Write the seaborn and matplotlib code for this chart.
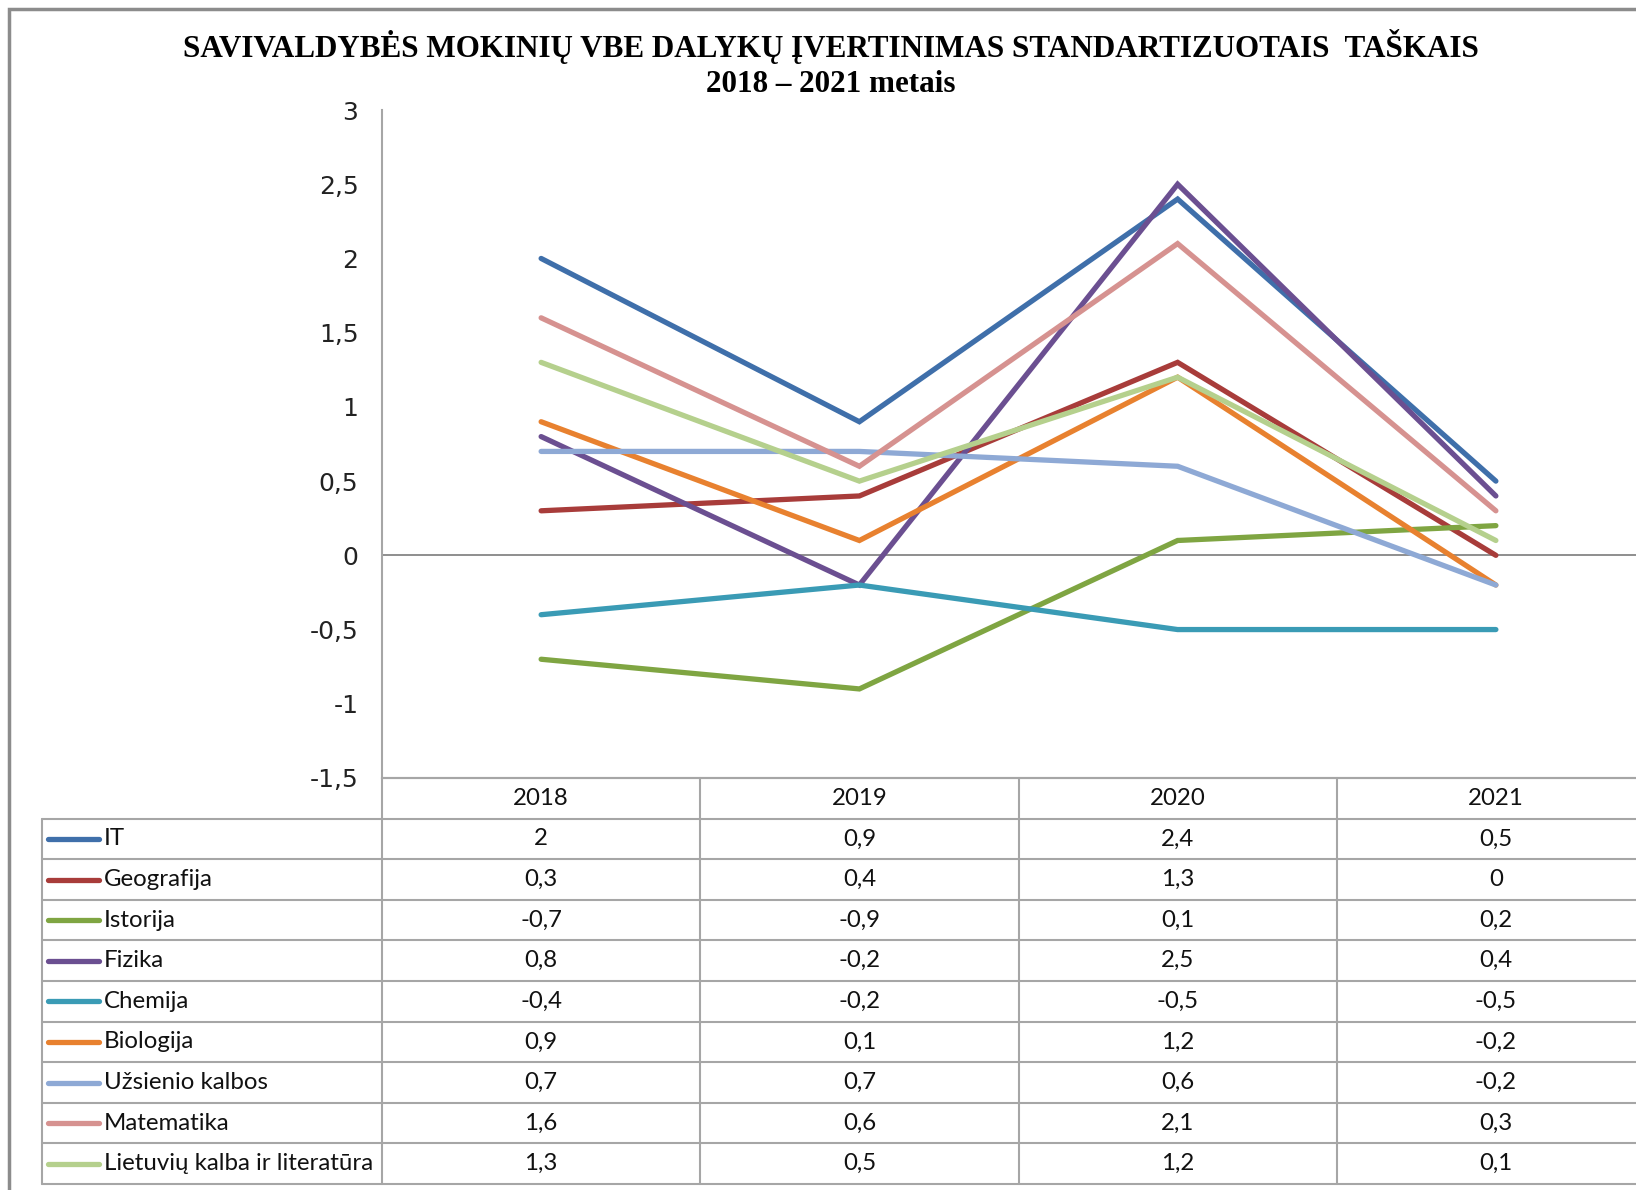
import numpy as np
import pandas as pd
import matplotlib
matplotlib.use('Agg')
import matplotlib.pyplot as plt
import seaborn as sns
from matplotlib.patches import Rectangle

years = [2018, 2019, 2020, 2021]
subjects = ['IT', 'Geografija', 'Istorija', 'Fizika', 'Chemija', 'Biologija',
            'Užsienio kalbos', 'Matematika', 'Lietuvių kalba ir literatūra']
it_vals = [2, 0.9, 2.4, 0.5]
geografija = [0.3, 0.4, 1.3, 0]
istorija = [-0.7, -0.9, 0.1, 0.2]
fizika = [0.8, -0.2, 2.5, 0.4]
chemija = [-0.4, -0.2, -0.5, -0.5]
biologija = [0.9, 0.1, 1.2, -0.2]
uzsienio = [0.7, 0.7, 0.6, -0.2]
matematika = [1.6, 0.6, 2.1, 0.3]
lietuviu = [1.3, 0.5, 1.2, 0.1]
colors = ['#3F6FAA', '#A83C3A', '#7FA542', '#6B4F91', '#3A9BB5',
          '#E8812F', '#8EA9D5', '#D69290', '#B5D08D']

series = [it_vals, geografija, istorija, fizika, chemija, biologija,
          uzsienio, matematika, lietuviu]
rows = []
for name, vals in zip(subjects, series):
    for y, v in zip(years, vals):
        rows.append({'metai': y, 'subject': name, 'value': v})
df = pd.DataFrame(rows)
palette = dict(zip(subjects, colors))

def fmt(v):
    return f'{v:g}'.replace('.', ',')

sns.set_style('white')

W, H = 1636, 1190
fig = plt.figure(figsize=(W / 100, H / 100), dpi=100)

# pixel layout
ax_l, ax_r, ax_t, ax_b = 382, 1655, 110, 778
tab_b = 1184
ax = fig.add_axes([ax_l / W, 1 - ax_b / H, (ax_r - ax_l) / W, (ax_b - ax_t) / H])

sns.lineplot(data=df, x='metai', y='value', hue='subject', hue_order=subjects,
             palette=palette, sort=False, linewidth=3.8, legend=False, ax=ax,
             solid_capstyle='round', solid_joinstyle='miter')

grid_c = '#A6A6A6'
ax.set_xlim(2017.5, 2021.5)
ax.set_ylim(-1.5, 3)
ax.axhline(0, color='#868686', lw=1.3, zorder=0)
yt = np.arange(-1.5, 3.01, 0.5)
ax.set_yticks(yt)
ax.set_yticklabels([fmt(round(t, 1)) for t in yt], fontsize=18,
                   fontfamily='DejaVu Sans', color='#222222')
ax.tick_params(axis='y', length=0, pad=17)
ax.set_xticks([])
ax.set_xlabel('')
ax.set_ylabel('')
for s in ['top', 'right']:
    ax.spines[s].set_visible(False)
ax.spines['left'].set_color(grid_c)
ax.spines['left'].set_linewidth(1.5)
ax.spines['bottom'].set_color(grid_c)
ax.spines['bottom'].set_linewidth(1.5)

# data table under the chart
nrows = len(subjects) + 1
tab = fig.add_axes([ax_l / W, 1 - tab_b / H, (ax_r - ax_l) / W, (tab_b - ax_b) / H])
tab.set_xlim(2017.5, 2021.5)
tab.set_ylim(nrows, 0)
tab.axis('off')
px = 1.0 / ((ax_r - ax_l) / 4)  # data units per pixel
leg_left = 2017.5 - (ax_l - 42) * px

tab.plot([2017.5, 2021.5], [0, 0], color=grid_c, lw=1.5, clip_on=False)
for r in range(1, nrows + 1):
    tab.plot([leg_left, 2021.5], [r, r], color=grid_c, lw=1.5, clip_on=False)
tab.plot([leg_left, leg_left], [1, nrows], color=grid_c, lw=1.5, clip_on=False)
for c in years:
    tab.plot([c - 0.5, c - 0.5], [0, nrows], color=grid_c, lw=1.5, clip_on=False)

tfont = dict(fontsize=17.3, fontfamily='Lato', color='#111111')
for y in years:
    tab.text(y, 0.5, str(y), ha='center', va='center', **tfont)
for i, (name, vals, col) in enumerate(zip(subjects, series, colors)):
    r = i + 1.5
    tab.plot([leg_left + 6 * px, leg_left + 57 * px], [r, r], color=col, lw=3.8,
             solid_capstyle='round', clip_on=False)
    tab.text(leg_left + 62 * px, r, name, ha='left', va='center', clip_on=False, **tfont)
    for y, v in zip(years, vals):
        tab.text(y, r, fmt(v), ha='center', va='center', **tfont)

# title
fig.text(831 / W, 1 - 47 / H,
         'SAVIVALDYBĖS MOKINIŲ VBE DALYKŲ ĮVERTINIMAS STANDARTIZUOTAIS  TAŠKAIS',
         ha='center', va='center', fontsize=22.4, fontweight='bold',
         fontfamily='Liberation Serif', color='black')
fig.text(831 / W, 1 - 85 / H, '2018 – 2021 metais',
         ha='center', va='center', fontsize=22.4, fontweight='bold',
         fontfamily='Liberation Serif', color='black')

# outer chart frame
fig.patches.append(Rectangle((9 / W, -0.1), 1.2, 1 - 9 / H + 0.1,
                             transform=fig.transFigure, fill=False,
                             edgecolor='#8C8C8C', lw=2.5))

fig.savefig('out.png', dpi=100)
